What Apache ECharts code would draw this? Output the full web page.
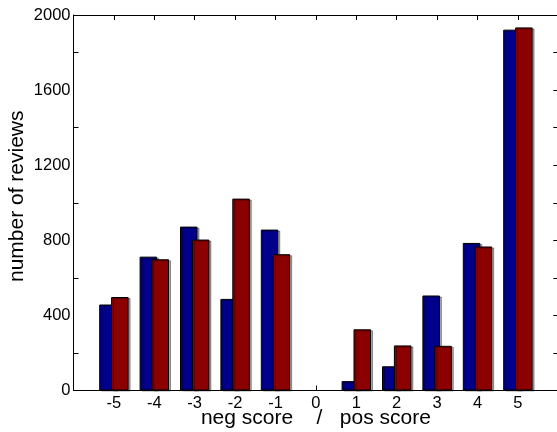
<!DOCTYPE html>
<html>
<head>
<meta charset="utf-8">
<script src="https://cdn.jsdelivr.net/npm/echarts@6/dist/echarts.min.js"></script>
<style>html,body{margin:0;padding:0;background:#fff}#c{width:557px;height:432px}</style>
</head>
<body>
<div id="c"></div>
<script>
var scores = [-5, -4, -3, -2, -1, 0, 1, 2, 3, 4, 5];
var blueCounts = [458, 713, 873, 488, 857, 0, 50, 129, 506, 786, 1922];
var redCounts = [498, 699, 804, 1022, 726, 0, 326, 240, 238, 767, 1934];
var yTickLabels = [0, 400, 800, 1200, 1600, 2000];

var FONT = 'Liberation Sans, Arial, Helvetica, sans-serif';
var chart = echarts.init(document.getElementById('c'), null, {renderer: 'canvas'});

function barData(vals) {
  return scores.map(function (s, i) {
    var v = vals[i];
    var item = {value: [s, v]};
    if (v === 0) {
      item.itemStyle = {borderWidth: 0, shadowColor: 'rgba(0,0,0,0)', opacity: 0};
    }
    return item;
  });
}

var barStyle = function (color) {
  return {
    color: color,
    borderColor: '#000',
    borderWidth: 1,
    shadowColor: 'rgba(0,0,0,0.35)',
    shadowOffsetX: 2,
    shadowOffsetY: 1,
    shadowBlur: 0
  };
};

chart.setOption({
  animation: false,
  backgroundColor: '#fff',
  grid: {left: 73.5, right: -1.3, top: 15, bottom: 41.5, containLabel: false, outerBoundsMode: 'none'},
  xAxis: [{
    type: 'value', min: -6, max: 6, interval: 1, position: 'bottom',
    name: 'neg score    /   pos score', nameLocation: 'middle', nameGap: 17,
    nameMoveOverlap: false,
    nameTextStyle: {fontFamily: FONT, fontSize: 21, color: '#000'},
    axisLine: {show: true, onZero: false, lineStyle: {color: '#000', width: 1}},
    axisTick: {show: true, inside: true, length: 5, lineStyle: {color: '#000'}},
    axisLabel: {
      fontFamily: FONT, fontSize: 16.5, color: '#000', margin: 4,
      formatter: function (v) { return scores.indexOf(v) >= 0 ? String(v) : ''; }
    },
    splitLine: {show: false}
  }, {
    type: 'value', min: -6, max: 6, interval: 1, position: 'top',
    axisLine: {show: true, onZero: false, lineStyle: {color: '#000', width: 1}},
    axisTick: {show: true, inside: true, length: 5, lineStyle: {color: '#000'}},
    axisLabel: {show: false},
    splitLine: {show: false}
  }],
  yAxis: [{
    type: 'value', min: 0, max: 2000, interval: 400, position: 'left',
    name: 'number of reviews', nameLocation: 'middle', nameGap: 46,
    nameMoveOverlap: false,
    nameTextStyle: {fontFamily: FONT, fontSize: 21, color: '#000', padding: [0, 0, 0, 13]},
    axisLine: {show: true, onZero: false, lineStyle: {color: '#000', width: 1}},
    axisTick: {show: false, inside: true, length: 5},
    minorTick: {show: true, splitNumber: 2, length: 5, lineStyle: {color: '#000'}},
    axisLabel: {
      fontFamily: FONT, fontSize: 16.5, color: '#000', margin: 3,
      formatter: function (v) { return yTickLabels.indexOf(v) >= 0 ? String(v) : ''; }
    },
    splitLine: {show: false}
  }, {
    type: 'value', min: 0, max: 2000, interval: 200, position: 'right',
    axisLine: {show: true, onZero: false, lineStyle: {color: '#000', width: 1}},
    axisTick: {show: true, inside: true, length: 5, lineStyle: {color: '#000'}},
    axisLabel: {show: false},
    splitLine: {show: false}
  }],
  series: [{
    type: 'bar', xAxisIndex: 0, yAxisIndex: 0,
    data: barData(blueCounts), barWidth: 17.5, barGap: '-32%',
    itemStyle: barStyle('#00008B')
  }, {
    type: 'bar', xAxisIndex: 0, yAxisIndex: 0,
    data: barData(redCounts), barWidth: 17.5, barGap: '-32%',
    itemStyle: barStyle('#8B0000')
  }]
});
</script>
</body>
</html>
